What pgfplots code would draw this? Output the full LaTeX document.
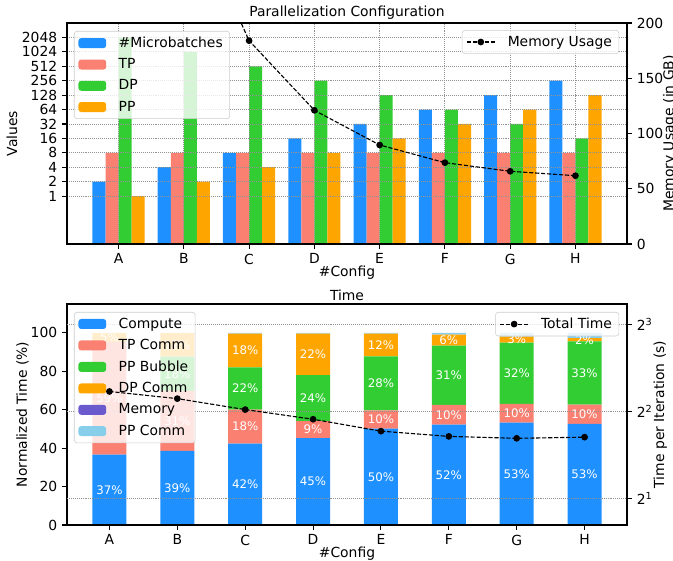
\documentclass[border=0pt]{standalone}
\usepackage{pgfplots}
\pgfplotsset{compat=1.18}
\usepackage{fontspec}
\setmainfont{DejaVu Sans}
\definecolor{cMB}{RGB}{30,144,255}
\definecolor{cTP}{RGB}{250,128,114}
\definecolor{cDP}{RGB}{50,205,50}
\definecolor{cPP}{RGB}{255,165,0}
\definecolor{cMem}{RGB}{106,90,205}
\definecolor{cPPC}{RGB}{135,206,235}
\pgfplotsset{
  /pgf/number format/assume math mode=true,
  base/.style={
    scale only axis, width=403.2pt, height=159.12pt,
    font=\fontsize{10}{12}\selectfont,
    tick align=outside, major tick length=3.5pt,
    axis line style={line width=0.8pt},
    tick style={line width=0.8pt, black},
    legend cell align=left,
    legend style={draw=black!20, rounded corners=2pt, fill=white, fill opacity=0.8,
      text opacity=1, font=\fontsize{10}{12}\selectfont, inner xsep=3pt, inner ysep=2pt,
      row sep=2.5pt},
    title style={yshift=-6.8pt},
    xlabel style={yshift=5.8pt},
  },
  barleg/.style={legend image code/.code={\fill[##1, fill opacity=1] (0pt,-3.6pt) rectangle (20pt,3.6pt); \path (27pt,0pt);}},
  lineleg/.style={legend image code/.code={\draw[##1, opacity=1, mark repeat=2, mark phase=2] plot coordinates {(0pt,0pt) (10pt,0pt) (20pt,0pt)}; \path (27pt,0pt);}},
  pct/.style={
    visualization depends on={rawy \as \rawy},
    nodes near coords={\ifdim\rawy pt<1pt\else\pgfmathprintnumber[fixed,precision=0]{\rawy}\%\fi},
    every node near coord/.append style={anchor=center, text=white,
      font=\fontsize{8.5}{10}\selectfont},
  },
  gridsty/.style={grid style={gray!85, densely dotted, line width=0.6pt}},
}
\begin{document}
\begin{tikzpicture}
\useasboundingbox (0,0) rectangle (484.56pt,403.92pt);
% ---------------- Top panel ----------------
\begin{axis}[base, at={(48.24pt,228.24pt)}, anchor=south west,
  ymode=log, log basis y=2, log origin y=infty, ymin=0.1, ymax=4096,
  ytick={1,2,4,8,16,32,64,128,256,512,1024,2048},
  yticklabels={1,2,4,8,16,32,64,128,256,512,1024,2048},
  xmin=-0.79, xmax=7.79, xtick={0,1,2,3,4,5,6,7}, xticklabels={A,B,C,D,E,F,G,H},
  xtick pos=left, ytick pos=left,
  grid=major, gridsty, axis on top,
  ybar, bar width=0.2, barleg,
  xlabel={\#Config}, ylabel={Values}, title={Parallelization Configuration},
  ylabel shift=-3.5pt,
  legend style={at={(0.0125,0.964)}, anchor=north west}]
\addplot[fill=cMB, draw=none, bar shift=-0.3] coordinates {(0,2) (1,4) (2,8) (3,16) (4,32) (5,64) (6,128) (7,256)};
\addlegendentry{\#Microbatches}
\addplot[fill=cTP, draw=none, bar shift=-0.1] coordinates {(0,8) (1,8) (2,8) (3,8) (4,8) (5,8) (6,8) (7,8)};
\addlegendentry{TP}
\addplot[fill=cDP, draw=none, bar shift=0.1] coordinates {(0,2048) (1,1024) (2,512) (3,256) (4,128) (5,64) (6,32) (7,16)};
\addlegendentry{DP}
\addplot[fill=cPP, draw=none, bar shift=0.3] coordinates {(0,1) (1,2) (2,4) (3,8) (4,16) (5,32) (6,64) (7,128)};
\addlegendentry{PP}
\end{axis}
\begin{axis}[base, at={(48.24pt,228.24pt)}, anchor=south west,
  xmin=-0.79, xmax=7.79, axis y line*=right, axis x line=none,
  ymin=0, ymax=200, ytick={0,50,100,150,200},
  ylabel={Memory Usage (in GB)}, ylabel shift=-7pt, lineleg,
  legend style={at={(0.986,0.968)}, anchor=north east}]
\addplot[black, dash pattern=on 3pt off 1.3pt, line width=0.8pt, mark=*, mark size=2pt, mark options={solid}]
  coordinates {(0,565) (1,315) (2,184) (3,121) (4,89.6) (5,73.6) (6,65.8) (7,61.8)};
\addlegendentry{Memory Usage}
\end{axis}
% ---------------- Bottom panel ----------------
\begin{axis}[base, at={(48.24pt,25.92pt)}, anchor=south west,
  ybar stacked, bar width=0.5, barleg,
  ymin=0, ymax=115, ytick={0,20,40,60,80,100},
  xmin=-0.625, xmax=7.625, xtick={0,1,2,3,4,5,6,7}, xticklabels={A,B,C,D,E,F,G,H},
  xtick pos=left, ytick pos=left, axis on top,
  extra y ticks={13.77,59.08,104.39}, extra y tick labels={},
  extra y tick style={ymajorgrids=true, major tick length=0pt, gridsty},
  xlabel={\#Config}, ylabel={Normalized Time (\%)}, title={Time},
  ylabel shift=-9pt,
  legend style={at={(0.0125,0.964)}, anchor=north west}]
\addplot[fill=cMB, draw=none, pct] coordinates {(0,36.6) (1,38.6) (2,42.3) (3,45.2) (4,50.1) (5,52.2) (6,53.3) (7,52.6)};
\addlegendentry{Compute}
\addplot[fill=cTP, draw=none, pct] coordinates {(0,58.7) (1,31.2) (2,17.7) (3,8.8) (4,9.6) (5,10.3) (6,9.7) (7,10.0)};
\addlegendentry{TP Comm}
\addplot[fill=cDP, draw=none, pct] coordinates {(0,0) (1,17.8) (2,22.0) (3,24.0) (4,28.0) (5,30.8) (6,31.9) (7,32.9)};
\addlegendentry{PP Bubble}
\addplot[fill=cPP, draw=none, pct] coordinates {(0,4.7) (1,12.2) (2,17.6) (3,21.6) (4,11.9) (5,5.7) (6,3.1) (7,1.8)};
\addlegendentry{DP Comm}
\addplot[fill=cMem, draw=none] coordinates {(0,0) (1,0) (2,0) (3,0) (4,0) (5,0) (6,0) (7,0)};
\addlegendentry{Memory}
\addplot[fill=cPPC, draw=none] coordinates {(0,0) (1,0.2) (2,0.4) (3,0.4) (4,0.4) (5,1.0) (6,2.0) (7,2.7)};
\addlegendentry{PP Comm}
\end{axis}
\begin{axis}[base, at={(48.24pt,25.92pt)}, anchor=south west,
  xmin=-0.625, xmax=7.625, axis y line*=right, axis x line=none,
  ymode=log, log basis y=2, ymin=1.62, ymax=9.41, ytick={2,4,8},
  yticklabels={2\textsuperscript{1},2\textsuperscript{2},2\textsuperscript{3}},
  ylabel={Time per Iteration (s)}, ylabel shift=-6pt, lineleg,
  legend style={at={(0.986,0.964)}, anchor=north east}]
\addplot[black, dash pattern=on 3pt off 1.3pt, line width=0.8pt, mark=*, mark size=2pt, mark options={solid}]
  coordinates {(0,4.69) (1,4.43) (2,4.06) (3,3.76) (4,3.42) (5,3.28) (6,3.23) (7,3.26)};
\addlegendentry{Total Time}
\end{axis}
\end{tikzpicture}
\end{document}
